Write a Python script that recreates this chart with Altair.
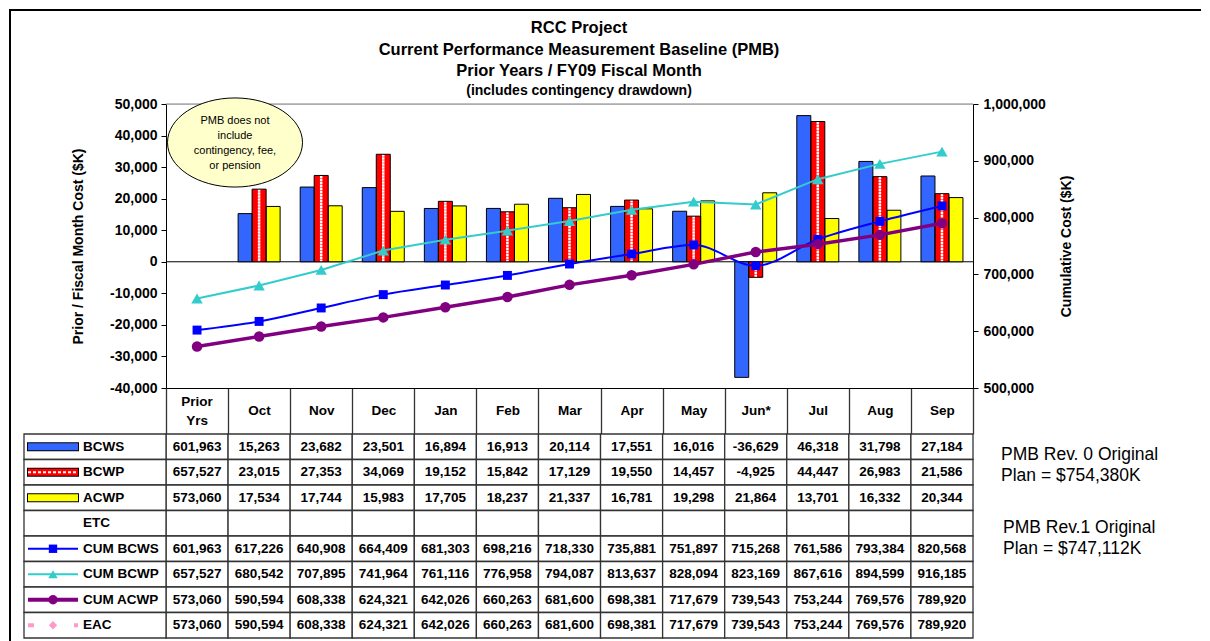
import altair as alt
import pandas as pd

# ---------------- data ----------------
categories = ["Prior Yrs", "Oct", "Nov", "Dec", "Jan", "Feb", "Mar", "Apr", "May", "Jun*", "Jul", "Aug", "Sep"]
bcws = [601963, 15263, 23682, 23501, 16894, 16913, 20114, 17551, 16016, -36629, 46318, 31798, 27184]
bcwp = [657527, 23015, 27353, 34069, 19152, 15842, 17129, 19550, 14457, -4925, 44447, 26983, 21586]
acwp = [573060, 17534, 17744, 15983, 17705, 18237, 21337, 16781, 19298, 21864, 13701, 16332, 20344]
cum_bcws = [601963, 617226, 640908, 664409, 681303, 698216, 718330, 735881, 751897, 715268, 761586, 793384, 820568]
cum_bcwp = [657527, 680542, 707895, 741964, 761116, 776958, 794087, 813637, 828094, 823169, 867616, 894599, 916185]
cum_acwp = [573060, 590594, 608338, 624321, 642026, 660263, 681600, 698381, 717679, 739543, 753244, 769576, 789920]
eac = [573060, 590594, 608338, 624321, 642026, 660263, 681600, 698381, 717679, 739543, 753244, 769576, 789920]

bar_series = ["BCWS", "BCWP", "ACWP"]
row_names = ["BCWS", "BCWP", "ACWP", "ETC", "CUM BCWS", "CUM BCWP", "CUM ACWP", "EAC"]

title_lines = ["RCC Project", "Current Performance Measurement Baseline (PMB)", "Prior Years / FY09 Fiscal Month"]
subtitle_text = "(includes contingency drawdown)"
callout_text = "PMB does not\ninclude\ncontingency, fee,\nor pension"
note1 = "PMB Rev. 0 Original\nPlan = $754,380K"
note2 = "PMB Rev.1 Original\nPlan = $747,112K"
first_cat_label = "Prior\nYrs"

FONT = "Liberation Sans"
W, H = 807, 284          # plot area
HDR, TH = 46, 204        # header row height, table body height
T0 = H + HDR             # table top (pixels below plot top)
GRID = "#333333"

# ---------------- tables built from the arrays ----------------
monthly = {"BCWS": bcws, "BCWP": bcwp, "ACWP": acwp}
bar_rows = []
for i, c in enumerate(categories):
    if i == 0:
        continue
    for s in bar_series:
        bar_rows.append({"cat": c, "series": s, "value": monthly[s][i], "base": 0})
bars_df = pd.DataFrame(bar_rows)
bcwp_df = bars_df[bars_df.series == "BCWP"]

cum = {"CUM BCWS": cum_bcws, "CUM BCWP": cum_bcwp, "CUM ACWP": cum_acwp, "EAC": eac}
cum_df = pd.DataFrame([{"cat": c, "series": s, "cum": v}
                       for s, vals in cum.items() for c, v in zip(categories, vals)])

table_vals = {"BCWS": bcws, "BCWP": bcwp, "ACWP": acwp, "ETC": [None] * 13,
              "CUM BCWS": cum_bcws, "CUM BCWP": cum_bcwp, "CUM ACWP": cum_acwp, "EAC": eac}
cells_df = pd.DataFrame([{"row": r, "cat": c, "txt": ("" if v is None else f"{v:,}")}
                         for r in row_names for c, v in zip(categories, table_vals[r])])
rows_df = pd.DataFrame({"row": row_names})

# ---------------- scales / axes ----------------
x_enc = alt.X("cat:N", sort=categories, scale=alt.Scale(paddingInner=0, paddingOuter=0),
              axis=alt.Axis(title=None, orient="bottom", tickBand="extent", tickSize=HDR,
                            tickColor=GRID, tickWidth=1.3, domainColor="#000", domainWidth=1,
                            labelAngle=0, labelFont=FONT, labelFontSize=13.5, labelFontWeight="bold",
                            labelColor="#000", labelBaseline="middle", labelPadding=-24,
                            labelExpr="datum.value == 'Prior Yrs' ? '' : datum.label"))
xo = alt.XOffset("series:N", sort=bar_series,
                 scale=alt.Scale(domain=bar_series, paddingOuter=0.717, paddingInner=0))

yL = alt.Y("value:Q", scale=alt.Scale(domain=[-40000, 50000], nice=False, zero=False),
           axis=alt.Axis(orient="left", values=list(range(-40000, 50001, 10000)),
                         labelExpr="(datum.value < 0 ? '-' : '') + format(abs(datum.value), ',')",
                         title="Prior / Fiscal Month Cost ($K)", titleFont=FONT, titleFontSize=14,
                         titleFontWeight="bold", titleColor="#000", titlePadding=24,
                         grid=False, tickSize=5, tickColor="#000", domainColor="#000",
                         labelPadding=4, labelFont=FONT, labelFontSize=14, labelFontWeight="bold",
                         labelColor="#000"))
yR = alt.Y("cum:Q", scale=alt.Scale(domain=[500000, 1000000], nice=False, zero=False),
           axis=alt.Axis(orient="right", values=list(range(500000, 1000001, 100000)), format=",d",
                         title="Cumulative Cost ($K)", titleFont=FONT, titleFontSize=14,
                         titleFontWeight="bold", titleColor="#000", titlePadding=14,
                         titleAngle=-90, titleBaseline="top",
                         grid=False, tickSize=5, tickColor="#000", domainColor="#000",
                         labelPadding=5, labelFont=FONT, labelFontSize=14, labelFontWeight="bold",
                         labelColor="#000"))
yT = alt.Y("row:N", sort=row_names,
           scale=alt.Scale(domain=row_names, range=[T0, T0 + TH], paddingInner=0, paddingOuter=0),
           axis=None)

color_scale = alt.Scale(domain=bar_series, range=["#3366FF", "#FF0000", "#FFFF00"])

# ---------------- left-axis group: bars ----------------
top_border = alt.Chart(pd.DataFrame({"value": [50000]})).mark_rule(color="#808080", strokeWidth=1).encode(y=yL)
zero_line = alt.Chart(pd.DataFrame({"value": [0]})).mark_rule(color="#000", strokeWidth=1).encode(y=yL)
bars = alt.Chart(bars_df).mark_bar(strokeWidth=0).encode(
    x=x_enc, xOffset=xo, y=yL, color=alt.Color("series:N", scale=color_scale, legend=None))
dotsA = alt.Chart(bcwp_df).mark_rule(color="white", strokeWidth=2.5, strokeDash=[2.5, 3.5], xOffset=-3.5).encode(
    x=x_enc, xOffset=xo, y=yL, y2=alt.Y2("base:Q"))
dotsB = alt.Chart(bcwp_df).mark_rule(color="white", strokeWidth=2.5, strokeDash=[2.5, 3.5], strokeDashOffset=3,
                                     xOffset=3.5).encode(x=x_enc, xOffset=xo, y=yL, y2=alt.Y2("base:Q"))
outlines = alt.Chart(bars_df).mark_bar(fill="transparent", stroke="#000", strokeWidth=1).encode(
    x=x_enc, xOffset=xo, y=yL)
left_group = alt.layer(top_border, zero_line, bars, dotsA, dotsB, outlines)


# ---------------- right-axis group: cumulative lines ----------------
def cum_line(series, color, width, shape, size, interp="linear", dash=None):
    kw = dict(color=color, strokeWidth=width, interpolate=interp)
    if dash:
        kw["strokeDash"] = dash
    return alt.Chart(cum_df).transform_filter(alt.datum.series == series).mark_line(
        **kw, point=alt.OverlayMarkDef(shape=shape, size=size, filled=True, color=color, opacity=1)
    ).encode(x=x_enc, y=yR)


right_group = alt.layer(
    cum_line("EAC", "#FF99CC", 2, "diamond", 60, dash=[6, 4]),
    cum_line("CUM BCWP", "#33CCCC", 2, "triangle-up", 130),
    cum_line("CUM BCWS", "#0000FF", 2, "square", 80, interp="monotone"),
    cum_line("CUM ACWP", "#800080", 3.5, "circle", 110),
)

# ---------------- data table group ----------------
cells = alt.Chart(cells_df).mark_rect(fill="white", stroke=GRID, strokeWidth=1.3).encode(x=x_enc, y=yT)
label_cells = alt.Chart(rows_df).mark_rect(fill="white", stroke=GRID, strokeWidth=1.3).encode(
    x=alt.value(-142), x2=alt.value(0), y=yT)
cell_text = alt.Chart(cells_df).mark_text(font=FONT, fontSize=13.5, fontWeight="bold", color="#000").encode(
    x=x_enc, y=yT, text="txt:N")
label_text = alt.Chart(rows_df).mark_text(font=FONT, fontSize=13.5, fontWeight="bold", color="#000",
                                          align="left").encode(x=alt.value(-83), y=yT, text="row:N")


def swatch_rule(row, color, width, dash=None, x1=-138, x2=-88):
    kw = dict(color=color, strokeWidth=width, strokeCap="butt")
    if dash:
        kw["strokeDash"] = dash
    return alt.Chart(rows_df).transform_filter(alt.datum.row == row).mark_rule(**kw).encode(
        x=alt.value(x1), x2=alt.value(x2), y=yT)


def swatch_point(row, color, shape, size):
    return alt.Chart(rows_df).transform_filter(alt.datum.row == row).mark_point(
        shape=shape, size=size, filled=True, color=color, opacity=1).encode(x=alt.value(-113), y=yT)


swatches = [
    swatch_rule("BCWS", "#000", 9, x1=-139, x2=-87), swatch_rule("BCWS", "#3366FF", 7),
    swatch_rule("BCWP", "#000", 9, x1=-139, x2=-87), swatch_rule("BCWP", "#FF0000", 7),
    swatch_rule("BCWP", "white", 2, dash=[3, 2]),
    swatch_rule("ACWP", "#000", 9, x1=-139, x2=-87), swatch_rule("ACWP", "#FFFF00", 7),
    swatch_rule("CUM BCWS", "#0000FF", 2), swatch_point("CUM BCWS", "#0000FF", "square", 70),
    swatch_rule("CUM BCWP", "#33CCCC", 2), swatch_point("CUM BCWP", "#33CCCC", "triangle-up", 90),
    swatch_rule("CUM ACWP", "#800080", 4), swatch_point("CUM ACWP", "#800080", "circle", 90),
    swatch_rule("EAC", "#FF99CC", 4, dash=[6, 40]), swatch_point("EAC", "#FF99CC", "diamond", 70),
]
table_group = alt.layer(cells, label_cells, cell_text, label_text, *swatches)

# ---------------- titles, notes, frame ----------------
one = pd.DataFrame({"k": [0]})
first_cat = pd.DataFrame({"cat": [categories[0]], "lbl": [first_cat_label]})
first_label = alt.Chart(first_cat).mark_text(font=FONT, fontSize=13.5, fontWeight="bold", color="#000",
                                             lineBreak="\n", lineHeight=19, baseline="middle").encode(
    x=x_enc, y=alt.value(H + 14), text="lbl:N")
title_main = alt.Chart(one).mark_text(font=FONT, fontSize=16.5, fontWeight="bold", color="#000",
                                      lineBreak="\n", lineHeight=21.5, baseline="middle", align="center").encode(
    x=alt.value(413), y=alt.value(-76), text=alt.value("\n".join(title_lines)))
title_sub = alt.Chart(one).mark_text(font=FONT, fontSize=14, fontWeight="bold", color="#000",
                                     baseline="middle", align="center").encode(
    x=alt.value(413), y=alt.value(-13), text=alt.value(subtitle_text))
ellipse = alt.Chart(one).mark_point(shape="M -1 0 A 1 0.66 0 1 1 1 0 A 1 0.66 0 1 1 -1 0 Z",
                                    size=135 * 135, filled=True, fill="#FFFFCC", stroke="#000",
                                    strokeWidth=1, opacity=1).encode(x=alt.value(69), y=alt.value(38.5))
callout = alt.Chart(one).mark_text(font=FONT, fontSize=11, color="#000", lineBreak="\n", lineHeight=15,
                                   baseline="middle", align="center").encode(
    x=alt.value(69), y=alt.value(17), text=alt.value(callout_text))
notes = [
    alt.Chart(one).mark_text(font=FONT, fontSize=17.5, color="#000", align="left", baseline="middle",
                             lineBreak="\n", lineHeight=21).encode(
        x=alt.value(835), y=alt.value(T0 + 21), text=alt.value(note1)),
    alt.Chart(one).mark_text(font=FONT, fontSize=17.5, color="#000", align="left", baseline="middle",
                             lineBreak="\n", lineHeight=21).encode(
        x=alt.value(837), y=alt.value(T0 + 94), text=alt.value(note2)),
]
frame_top = alt.Chart(one).mark_rule(color="#000", strokeWidth=2).encode(
    x=alt.value(-157), x2=alt.value(1035), y=alt.value(-94))
frame_left = alt.Chart(one).mark_rule(color="#000", strokeWidth=2).encode(
    x=alt.value(-156), y=alt.value(-95), y2=alt.value(T0 + TH + 4))
deco = alt.layer(frame_top, frame_left, first_label, title_main, title_sub, ellipse, callout, *notes)

chart = alt.layer(left_group, right_group, table_group, deco).resolve_scale(y="independent").properties(
    width=W, height=H, padding={"left": 0, "top": 0, "right": 0, "bottom": 0}
).configure_view(stroke=None).configure(font=FONT)

chart.save("out.html", embed_options={"renderer": "svg", "actions": False})
